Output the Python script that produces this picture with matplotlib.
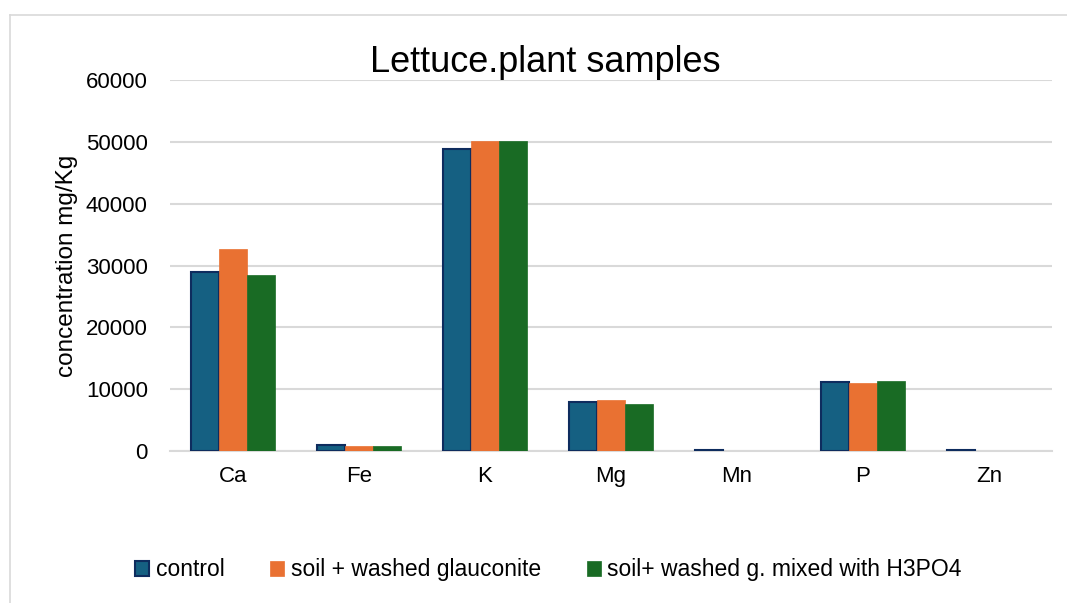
import matplotlib
matplotlib.use("Agg")
import matplotlib.pyplot as plt
from matplotlib.lines import Line2D
import numpy as np

# Element concentrations in lettuce plant tissue (mg/Kg)
elements = ["Ca", "Fe", "K", "Mg", "Mn", "P", "Zn"]
control = [28950, 970, 48900, 7950, 150, 11200, 120]
washed_glauconite = [32700, 770, 50150, 8250, 60, 11050, 20]
washed_g_h3po4 = [28450, 790, 50200, 7650, 50, 11350, 20]

series_names = ["control", "soil + washed glauconite", "soil+ washed g. mixed with H3PO4"]
yticks = [0, 10000, 20000, 30000, 40000, 50000, 60000]

plt.rcParams["font.family"] = ["Liberation Sans", "DejaVu Sans"]

fig = plt.figure(figsize=(10.67, 6.03), dpi=100)
ax = fig.add_axes([0.1593, 0.2521, 0.8267, 0.6152])

x = np.arange(len(elements))
w = 0.222
b1 = ax.bar(x - w, control, w, color="#156082", edgecolor="#0E2C5E", linewidth=1.5,
            label=series_names[0], zorder=3)
b2 = ax.bar(x, washed_glauconite, w, color="#E97132", edgecolor="#E97132", linewidth=0.5,
            label=series_names[1], zorder=3)
b3 = ax.bar(x + w, washed_g_h3po4, w, color="#196B24", edgecolor="#196B24", linewidth=0.5,
            label=series_names[2], zorder=3)

ax.set_xlim(-0.5, len(elements) - 0.5)
ax.set_ylim(0, 60000)
ax.set_yticks(yticks)
ax.set_yticklabels([str(v) for v in yticks])
ax.set_xticks(x)
ax.set_xticklabels(elements)
ax.tick_params(axis="both", length=0, labelsize=16, colors="#000000")
ax.tick_params(axis="y", pad=16)
ax.tick_params(axis="x", pad=11)
ax.grid(axis="y", color="#D9D9D9", linewidth=1.5, zorder=0)
for s in ["top", "right", "left"]:
    ax.spines[s].set_visible(False)
ax.spines["bottom"].set_color("#D9D9D9")
ax.spines["bottom"].set_linewidth(1.5)
ax.set_ylabel("concentration mg/Kg", fontsize=17.5)
ax.yaxis.set_label_coords(-(170 - 78) / 882, 0.5)

fig.text(0.511, 0.897, "Lettuce.plant samples", fontsize=26, ha="center", va="center")

fig.legend(handles=[b1, b2, b3], loc="center", bbox_to_anchor=(0.514, 0.055), ncol=3,
           frameon=False, fontsize=16.5, handlelength=0.6, handleheight=0.6,
           handletextpad=0.3, columnspacing=2.0)

# Outer chart frame
fig.add_artist(Line2D([10 / 1067, 10 / 1067], [0, 1 - 15 / 603], transform=fig.transFigure,
                      color="#D9D9D9", linewidth=1.2))
fig.add_artist(Line2D([10 / 1067, 1], [1 - 15 / 603, 1 - 15 / 603], transform=fig.transFigure,
                      color="#D9D9D9", linewidth=1.2))

fig.savefig("out.png", dpi=100, facecolor="white")
